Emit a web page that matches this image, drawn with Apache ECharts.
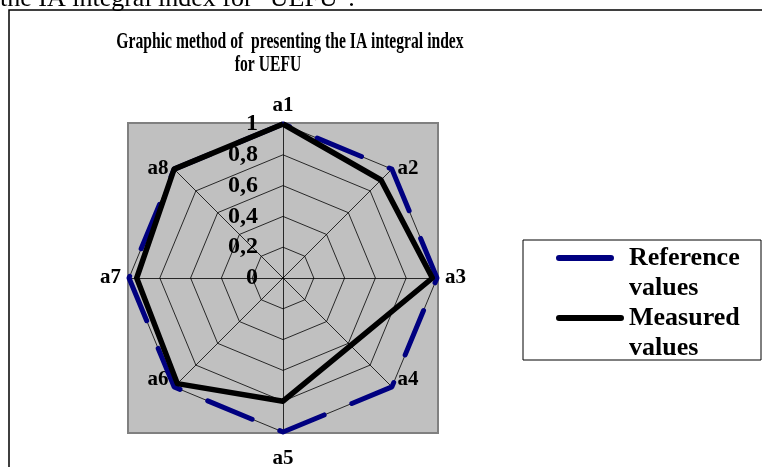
<!DOCTYPE html>
<html>
<head>
<meta charset="utf-8">
<script src="https://cdn.jsdelivr.net/npm/echarts@6/dist/echarts.min.js"></script>
<style>
  html, body { margin: 0; padding: 0; background: #fff; }
  #chart { width: 762px; height: 467px; }
</style>
</head>
<body>
<div id="chart"></div>
<script>
// axes a1..a8, clockwise from the top
const axisNames = ['a1', 'a2', 'a3', 'a4', 'a5', 'a6', 'a7', 'a8']
const referenceValues = [1, 1, 1, 1, 1, 1, 1, 1]
const measuredValues = [1, 0.9, 0.97, 0.62, 0.8, 0.97, 0.95, 1]
const seriesNames = ['Reference values', 'Measured values']
const tickStep = 0.2

const serif = '"Liberation Serif", "Times New Roman", serif'
const cx = 283
const cy = 278
const r = 154

// radar goes counter-clockwise, so reverse everything after a1
const order = [0, 7, 6, 5, 4, 3, 2, 1]
const pick = (arr) => order.map((i) => arr[i])

// capsule icon drawn at the top of the box; the stray point only stretches the box
const icon = (len, w) =>
  'path://M3,0 L' + (len - 3) + ',0 A3,3 0 0 1 ' + (len - 3) + ',6 L3,6 A3,3 0 0 1 3,0 Z M' + w + ',36 L' + w + ',36 Z'

// nudge the diagonal axis names so they sit like the excel ones
const nameFont = { color: '#000', fontFamily: serif, fontWeight: 'bold', fontSize: 21 }
const nameRich = {
  a1: { ...nameFont },
  a2: { ...nameFont, padding: [10, 0, 0, 0] },
  a3: { ...nameFont },
  a4: { ...nameFont, padding: [0, 0, 26, 0] },
  a5: { ...nameFont, padding: [8, 0, 0, 0] },
  a6: { ...nameFont, padding: [0, 0, 26, 0] },
  a7: { ...nameFont },
  a8: { ...nameFont, padding: [10, 0, 0, 0] }
}

const chart = echarts.init(document.getElementById('chart'))

chart.setOption({
  animation: false,
  textStyle: { fontFamily: serif },
  graphic: [
    {
      type: 'text',
      x: 0,
      y: 12,
      style: {
        text: 'the IA integral index for "UEFU".',
        font: '26px ' + serif,
        fill: '#000',
        verticalAlign: 'bottom'
      }
    },
    {
      type: 'rect',
      shape: { x: 9, y: 10, width: 800, height: 500 },
      style: { fill: '#fff', stroke: '#000', lineWidth: 1.5 },
      z: -10
    },
    {
      type: 'rect',
      shape: { x: 128, y: 123, width: 310, height: 310 },
      style: { fill: '#c0c0c0', stroke: '#808080', lineWidth: 2 },
      z: -5
    },
    {
      type: 'rect',
      shape: { x: 523, y: 240, width: 238, height: 120 },
      style: { fill: '#fff', stroke: '#000', lineWidth: 1 },
      z: -5
    },
    {
      type: 'text',
      x: 290,
      y: 42,
      scaleX: 0.68,
      style: {
        text: 'Graphic method of  presenting the IA integral index',
        font: 'bold 23px ' + serif,
        fill: '#000',
        align: 'center',
        verticalAlign: 'middle'
      }
    },
    {
      type: 'text',
      x: 268,
      y: 65,
      scaleX: 0.68,
      style: {
        text: 'for UEFU',
        font: 'bold 23px ' + serif,
        fill: '#000',
        align: 'center',
        verticalAlign: 'middle'
      }
    }
  ],
  legend: {
    orient: 'vertical',
    left: 556,
    top: 243,
    padding: 0,
    itemGap: 0,
    itemWidth: 68,
    itemHeight: 36,
    data: [
      { name: seriesNames[0], icon: icon(58, 68), itemStyle: { color: '#000080' } },
      { name: seriesNames[1], icon: icon(68, 68), itemStyle: { color: '#000' } }
    ],
    formatter: (name) => name.replace(' ', '\n'),
    textStyle: {
      fontFamily: serif,
      fontWeight: 'bold',
      fontSize: 26,
      lineHeight: 30,
      color: '#000'
    }
  },
  radar: {
    center: [cx, cy],
    radius: r,
    startAngle: 90,
    splitNumber: 5,
    shape: 'polygon',
    indicator: pick(axisNames).map((name) => ({ name: name, min: 0, max: 1 })),
    axisName: {
      ...nameFont,
      formatter: (name) => '{' + name + '|' + name + '}',
      rich: nameRich
    },
    nameGap: 8,
    axisLine: { lineStyle: { color: '#000', width: 0.8 } },
    splitLine: { lineStyle: { color: '#000', width: 0.8 } },
    splitArea: { show: false },
    axisTick: { show: false },
    axisLabel: { show: false }
  },
  // only used for the 0..1 tick labels on the a1 axis
  polar: { center: [cx, cy], radius: r },
  angleAxis: { show: false, startAngle: 90, min: 0, max: 360 },
  radiusAxis: {
    min: 0,
    max: 1,
    interval: tickStep,
    axisLine: { show: false },
    axisTick: { show: false },
    splitLine: { show: false },
    axisLabel: {
      show: true,
      margin: 25,
      color: '#000',
      fontFamily: serif,
      fontWeight: 'bold',
      fontSize: 24,
      formatter: (v) => String(Math.round(v * 10) / 10).replace('.', ',')
    }
  },
  series: [
    {
      name: seriesNames[0],
      type: 'radar',
      symbol: 'none',
      silent: true,
      lineStyle: { color: '#000080', width: 5, type: [48, 30], cap: 'round' },
      itemStyle: { color: '#000080' },
      data: [{ value: pick(referenceValues), name: seriesNames[0] }]
    },
    {
      name: seriesNames[1],
      type: 'radar',
      symbol: 'none',
      silent: true,
      lineStyle: { color: '#000', width: 5.5 },
      itemStyle: { color: '#000' },
      data: [{ value: pick(measuredValues), name: seriesNames[1] }]
    }
  ]
})
</script>
</body>
</html>
